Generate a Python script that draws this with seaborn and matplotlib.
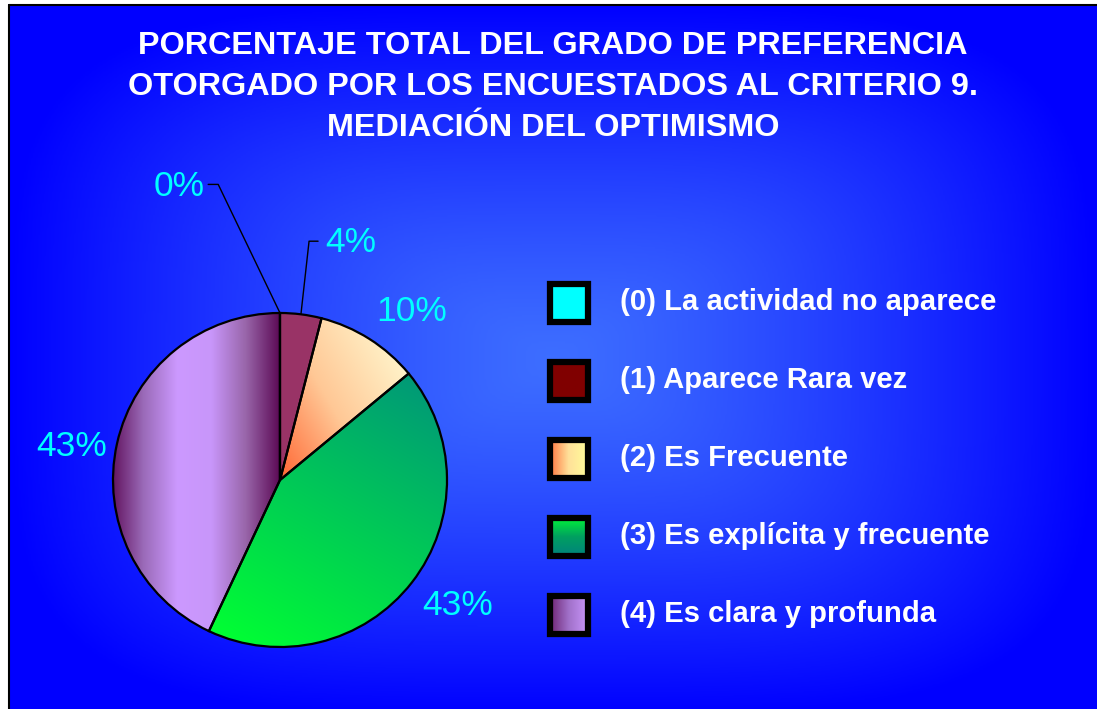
import numpy as np
import matplotlib.pyplot as plt
import seaborn as sns
from matplotlib.patches import Rectangle
from matplotlib.lines import Line2D

# datos del grafico
categorias = ["(0) La actividad no aparece", "(1) Aparece Rara vez", "(2) Es Frecuente",
              "(3) Es explícita y frecuente", "(4) Es clara y profunda"]
porcentajes = [0, 4, 10, 43, 43]
etiquetas = ["0%", "4%", "10%", "43%", "43%"]
titulo = ("PORCENTAJE TOTAL DEL GRADO DE PREFERENCIA\n"
          "OTORGADO POR LOS ENCUESTADOS AL CRITERIO 9.\n"
          "MEDIACIÓN DEL OPTIMISMO")

# colores (degradados) de cada porcion y de la leyenda
colores_pie = [["#00ffff"], ["#993366"], ["#ff6633", "#ffc896", "#fff2c8"],
               ["#00ff33", "#00cc55", "#009977"],
               ["#5c0a55", "#9a6ab8", "#cc99ff", "#c896fa", "#9966aa", "#5c0a55"]]
dir_pie = [(1, 0), (1, 0), (0.85, 0.5), (0.5, 0.87), (1, 0)]
colores_ley = [["#00ffff"], ["#800000"], ["#ff6633", "#ffe099", "#ffff99"],
               ["#00ff33", "#00a060", "#008080"], ["#661a66", "#a070c8", "#cc99ff"]]
dir_ley = ["h", "h", "h", "v", "h"]

# posiciones de las etiquetas (en radios) y lineas guia
pos_etq = [(-0.45, 1.755, "right"), (0.27, 1.425, "left"), (0.79, 1.01, "center"),
           (1.066, -0.75, "center"), (-1.245, 0.198, "center")]
codo = {0: [(-0.37, 1.77), (-0.43, 1.77)], 1: [(0.174, 1.43), (0.228, 1.43)]}

sns.set_style("white")
plt.rcParams["font.family"] = ["Liberation Sans", "DejaVu Sans"]

W, H = 1097, 709
fig = plt.figure(figsize=(W / 100, H / 100), dpi=100)
fig.patch.set_facecolor("white")

# fondo azul con degradado desde el centro (se sale un poco de la figura)
bg = fig.add_axes([8 / W, -0.01, 1.02 - 8 / W, 1.01 - 4 / H])
bg.set_facecolor("#0000ff")
yy, xx = np.mgrid[0:1:400j, 0:1:620j]
u = (xx - 0.49) / 0.49
v = (yy - 0.5) / 0.5
t = (np.abs(u) ** 4 + np.abs(v) ** 4) ** 0.25
t = np.clip(t, 0, 1) ** 1.3
fondo = sns.blend_palette(["#3d6dff", "#0000ff"], as_cmap=True)
bg.imshow(t, cmap=fondo, aspect="auto", extent=(0, 1, 0, 1), vmin=0, vmax=1)
bg.axis("off")

# borde negro arriba e izquierda
fig.add_artist(Line2D([8.5 / W, 8.5 / W], [0, 1 - 4.5 / H], color="black", lw=1.5))
fig.add_artist(Line2D([8.5 / W, 1], [1 - 4.5 / H, 1 - 4.5 / H], color="black", lw=1.5))

fig.text(553 / W, 1 - 87 / H, titulo, ha="center", va="center", color="white",
         fontsize=23.3, fontweight="bold", linespacing=1.47)

# grafico circular
R = 167
cx, cy = 280, H - 480
ax = fig.add_axes([(cx - R) / W, (cy - R) / H, 2 * R / W, 2 * R / H])
wedges, _ = ax.pie(porcentajes, startangle=90, counterclock=False, radius=1,
                   colors=[c[0] for c in colores_pie],
                   wedgeprops=dict(edgecolor="black", linewidth=1.6))
ax.set_xlim(-1, 1)
ax.set_ylim(-1, 1)
ax.set_aspect("equal")
ax.axis("off")

gy, gx = np.mgrid[-1:1:500j, -1:1:500j]
for i, w in enumerate(wedges):
    if len(colores_pie[i]) > 1:
        d = np.array(dir_pie[i], dtype=float)
        verts = w.get_path().vertices
        p = verts @ d
        campo = (gx * d[0] + gy * d[1] - p.min()) / (p.max() - p.min())
        cmap = sns.blend_palette(colores_pie[i], as_cmap=True)
        im = ax.imshow(np.clip(campo, 0, 1), cmap=cmap, extent=(-1, 1, -1, 1),
                       origin="lower", vmin=0, vmax=1, zorder=0.5)
        im.set_clip_path(w)
        w.set_facecolor("none")
    w.set_zorder(2)

# etiquetas de porcentaje
for i, w in enumerate(wedges):
    x, y, ha = pos_etq[i]
    if i in codo:
        ang = np.deg2rad((w.theta1 + w.theta2) / 2)
        pts = [(np.cos(ang), np.sin(ang))] + codo[i]
        ax.plot([q[0] for q in pts], [q[1] for q in pts], color="black", lw=1,
                clip_on=False, zorder=3)
    ax.text(x, y, etiquetas[i], ha=ha, va="center", color="#00ffff", fontsize=25.5,
            clip_on=False)

# leyenda dibujada a mano
lg = fig.add_axes([0, 0, 1, 1])
lg.axis("off")
lg.patch.set_alpha(0)
for i, nombre in enumerate(categorias):
    yc = 302 + 78 * i
    x0, y0, lado = 547, yc - 21, 43
    cmap = sns.blend_palette(colores_ley[i] * (2 if len(colores_ley[i]) == 1 else 1), as_cmap=True)
    grad = np.linspace(0, 1, 64)
    arr = grad[None, :] if dir_ley[i] == "h" else grad[:, None]
    lg.imshow(arr, cmap=cmap, extent=(x0, x0 + lado, y0 + lado, y0), aspect="auto",
              vmin=0, vmax=1, origin="upper")
    lg.add_patch(Rectangle((x0 + 2.5, y0 + 2.5), lado - 5, lado - 5, fill=False,
                           edgecolor="black", linewidth=4.5))
    lg.text(620, yc, nombre, ha="left", va="center", color="white", fontsize=21.1,
            fontweight="bold")
lg.set_xlim(0, W)
lg.set_ylim(H, 0)

fig.savefig("out.png", dpi=100, facecolor=fig.get_facecolor())
